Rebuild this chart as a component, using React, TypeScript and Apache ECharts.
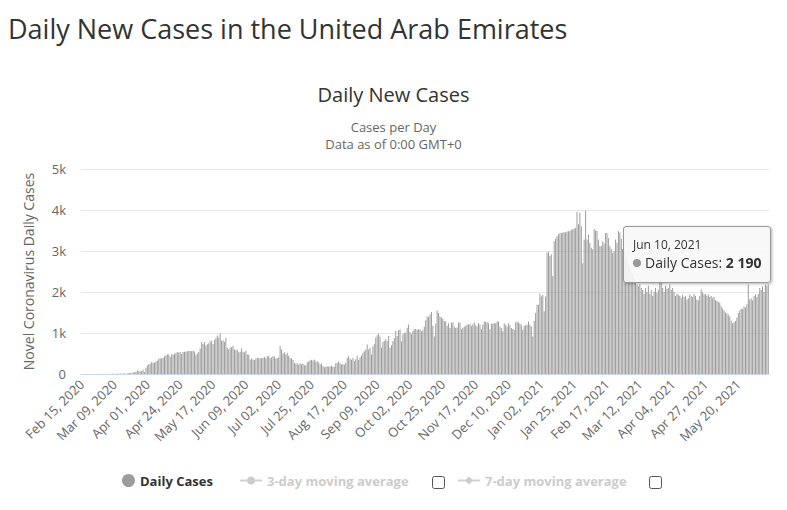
import React, { useEffect, useRef } from "react";
import * as echarts from "echarts";

// ---- Data (daily new cases) ----
const startDate = "2020-02-15";

const feb2020 = [0, 0, 1, 0, 0, 0, 0, 0, 0, 0, 0, 0, 0, 0, 0];
const mar2020 = [0, 2, 0, 6, 0, 1, 0, 15, 0, 0, 15, 0, 11, 5, 13, 11, 0, 15, 27, 27, 13, 45, 45, 50, 85, 72, 63, 72, 102, 41, 150];
const apr2020 = [210, 240, 241, 294, 277, 283, 300, 331, 370, 376, 387, 398, 432, 460, 479, 477, 412, 484, 477, 483, 518, 532, 525, 538, 490, 536, 541, 541, 552, 561];
const may2020 = [564, 557, 567, 546, 462, 502, 541, 624, 781, 731, 783, 698, 725, 747, 792, 813, 731, 832, 873, 941, 892, 994, 812, 822, 779, 883, 635, 596, 638, 661, 689];
const jun2020 = [596, 573, 596, 528, 540, 624, 540, 528, 568, 476, 477, 352, 379, 352, 344, 376, 388, 394, 378, 393, 392, 417, 382, 430, 448, 391, 401, 437, 426, 375];
const jul2020 = [389, 402, 686, 600, 500, 532, 475, 520, 445, 393, 380, 350, 275, 250, 264, 227, 260, 240, 250, 211, 213, 286, 310, 328, 350, 330, 354, 300, 310, 280, 230];
const aug2020 = [254, 189, 164, 179, 189, 181, 185, 200, 178, 179, 262, 271, 310, 265, 230, 235, 231, 277, 390, 435, 375, 350, 390, 310, 360, 450, 350, 411, 450, 516, 557];
const sep2020 = [600, 720, 600, 640, 475, 674, 735, 885, 943, 983, 913, 640, 780, 806, 845, 800, 930, 640, 700, 800, 870, 1050, 925, 1065, 1083, 800, 967, 1000, 1008, 1130];
const oct2020 = [1210, 1025, 967, 1050, 1090, 1100, 1075, 1090, 1090, 1040, 1060, 1150, 1310, 1400, 1390, 1450, 1510, 1175, 915, 1230, 1550, 1490, 1400, 1380, 1350, 1290, 1280, 1175, 1240, 1120, 1255];
const nov2020 = [1255, 1160, 1120, 1136, 1255, 1255, 1090, 1120, 1150, 1175, 1200, 1210, 1225, 1175, 1208, 1255, 1190, 1160, 1240, 1210, 1090, 1200, 1280, 1280, 1260, 1240, 1090, 1225, 1230, 1240];
const dec2020 = [1240, 1280, 1280, 1150, 1120, 1040, 1240, 1200, 1160, 1240, 1190, 1120, 1100, 1080, 1255, 1280, 1255, 1230, 1200, 1080, 1175, 1190, 1200, 1280, 1200, 1160, 915, 1300, 1490, 1690, 1690];
const jan2021 = [1960, 1890, 1930, 1530, 1890, 2960, 2980, 2880, 2920, 2390, 3240, 3300, 3360, 3410, 3430, 3440, 3450, 3455, 3460, 3475, 3480, 3490, 3510, 3530, 3540, 3570, 3950, 3650, 3930, 3600, 2700];
const feb2021 = [3280, 3977, 3280, 3400, 3200, 3080, 3040, 3530, 3500, 3490, 3280, 3120, 3120, 3240, 3180, 3440, 3440, 3320, 3120, 3040, 2950, 3000, 3280, 3200, 3490, 3450, 3300, 3050];
const mar2021 = [3000, 2800, 2900, 2700, 2600, 2500, 2450, 2350, 2220, 2180, 2140, 2190, 2100, 2050, 1950, 2100, 2000, 2150, 1950, 2050, 1900, 2000, 2100, 1980, 2050, 2300, 2250, 2100, 2000, 2150, 2080];
const apr2021 = [2100, 2180, 2050, 2100, 2000, 1900, 1950, 1930, 1900, 1860, 1930, 1880, 1900, 1820, 1850, 1940, 1900, 1880, 1950, 1900, 1820, 1800, 1900, 2060, 1980, 1940, 1950, 1900, 1940, 1880];
const may2021 = [1900, 1850, 1880, 1800, 1780, 1760, 1740, 1650, 1600, 1550, 1500, 1480, 1450, 1400, 1300, 1240, 1260, 1290, 1380, 1490, 1550, 1600, 1580, 1650, 1620, 1700, 2180, 1820, 1850, 1800, 1900];
const jun2021 = [1940, 1880, 1950, 2100, 2050, 2140, 2000, 2180, 2150, 2190];

const dailyCases = [
  ...feb2020, ...mar2020, ...apr2020, ...may2020, ...jun2020, ...jul2020,
  ...aug2020, ...sep2020, ...oct2020, ...nov2020, ...dec2020,
  ...jan2021, ...feb2021, ...mar2021, ...apr2021, ...may2021, ...jun2021,
];

const yTicks = [0, 1000, 2000, 3000, 4000, 5000];
const legendNames = ["Daily Cases", "3-day moving average", "7-day moving average"];

const MONTHS = ["Jan", "Feb", "Mar", "Apr", "May", "Jun", "Jul", "Aug", "Sep", "Oct", "Nov", "Dec"];

function buildDates(start: string, n: number): string[] {
  const [y, m, d] = start.split("-").map(Number);
  const t0 = Date.UTC(y, m - 1, d);
  const out: string[] = [];
  for (let i = 0; i < n; i++) {
    const dt = new Date(t0 + i * 86400000);
    const dd = String(dt.getUTCDate()).padStart(2, "0");
    out.push(`${MONTHS[dt.getUTCMonth()]} ${dd}, ${dt.getUTCFullYear()}`);
  }
  return out;
}

const categories = buildDates(startDate, dailyCases.length);

const FONT = "'Open Sans', sans-serif";

function fmtNum(v: number): string {
  return String(v).replace(/\B(?=(\d{3})+(?!\d))/g, " ");
}

export default function App() {
  const ref = useRef<HTMLDivElement>(null);

  useEffect(() => {
    if (!ref.current) return;
    const chart = echarts.init(ref.current, undefined, { renderer: "svg" });
    const legendText = { fontFamily: FONT, fontSize: 13, fontWeight: "bold", color: "#333333" };
    const option: any = {
      animation: false,
      backgroundColor: "#ffffff",
      textStyle: { fontFamily: FONT },
      title: [
        {
          text: "Daily New Cases in the United Arab Emirates",
          left: 3,
          top: 10,
          textStyle: { fontFamily: FONT, fontSize: 27, fontWeight: "normal", color: "#333333" },
        },
        {
          text: "Daily New Cases",
          left: "center",
          top: 79,
          textStyle: { fontFamily: FONT, fontSize: 20, fontWeight: "normal", color: "#333333" },
        },
        {
          text: "Cases per Day",
          left: "center",
          top: 115,
          textStyle: { fontFamily: FONT, fontSize: 13, fontWeight: "normal", color: "#666666" },
        },
        {
          text: "Data as of 0:00 GMT+0",
          left: "center",
          top: 132,
          textStyle: { fontFamily: FONT, fontSize: 13, fontWeight: "normal", color: "#666666" },
        },
      ],
      grid: { left: 81, right: 18, top: 169, bottom: 136, containLabel: false },
      tooltip: {
        trigger: "item",
        triggerOn: "none",
        alwaysShowContent: true,
        transitionDuration: 0,
        backgroundColor: "rgba(247,247,247,0.9)",
        borderColor: "#999999",
        borderWidth: 1,
        borderRadius: 3,
        padding: [10, 9, 9, 9],
        extraCssText: "box-shadow: 1px 1px 3px rgba(0,0,0,0.3);",
        textStyle: { fontFamily: FONT, fontSize: 14, color: "#333333" },
        position: () => [623, 226],
        formatter: (p: any) =>
          `<div style="font-size:12px;line-height:16px;color:#333">${p.name}</div>` +
          `<div style="font-size:14px;line-height:20px;color:#333"><span style="display:inline-block;width:8px;height:8px;border-radius:50%;background:#999;margin-right:4px;vertical-align:1px"></span>Daily Cases: <b>${fmtNum(p.value)}</b></div>`,
      },
      legend: [
        {
          data: [legendNames[0]],
          left: 117,
          top: 469,
          icon: "circle",
          itemWidth: 13,
          itemHeight: 13,
          textStyle: legendText,
        },
        {
          data: [legendNames[1]],
          left: 234,
          top: 469,
          itemWidth: 22,
          itemHeight: 10,
          inactiveColor: "#cccccc",
          selected: { [legendNames[1]]: false },
          textStyle: legendText,
        },
        {
          data: [legendNames[2]],
          left: 452,
          top: 469,
          itemWidth: 22,
          itemHeight: 10,
          inactiveColor: "#cccccc",
          selected: { [legendNames[2]]: false },
          textStyle: legendText,
        },
      ],
      xAxis: {
        type: "category",
        data: categories,
        boundaryGap: true,
        axisLine: { show: true, lineStyle: { color: "#ccd6eb", width: 1 } },
        axisTick: { show: false },
        axisLabel: {
          interval: 22,
          rotate: 45,
          margin: 8,
          fontFamily: FONT,
          fontSize: 13,
          color: "#666666",
        },
        splitLine: { show: false },
      },
      yAxis: {
        type: "value",
        min: yTicks[0],
        max: yTicks[yTicks.length - 1],
        interval: 1000,
        name: "Novel Coronavirus Daily Cases",
        nameLocation: "middle",
        nameRotate: 90,
        nameGap: 46,
        nameTextStyle: { fontFamily: FONT, fontSize: 14, color: "#666666" },
        axisLine: { show: false },
        axisTick: { show: false },
        axisLabel: {
          margin: 15,
          fontFamily: FONT,
          fontSize: 13,
          color: "#666666",
          formatter: (v: number) => (v === 0 ? "0" : `${v / 1000}k`),
        },
        splitLine: { show: true, lineStyle: { color: "#e6e6e6", width: 1 } },
      },
      series: [
        {
          name: legendNames[0],
          type: "bar",
          data: dailyCases,
          itemStyle: { color: "#9c9c9c" },
          barCategoryGap: "30%",
          emphasis: { disabled: true },
        },
        {
          name: legendNames[1],
          type: "line",
          data: [],
          symbol: "circle",
          symbolSize: 8,
          itemStyle: { color: "#cccccc" },
          lineStyle: { color: "#cccccc" },
        },
        {
          name: legendNames[2],
          type: "line",
          data: [],
          symbol: "diamond",
          symbolSize: 9,
          itemStyle: { color: "#cccccc" },
          lineStyle: { color: "#cccccc" },
        },
      ],
      graphic: [
        {
          type: "rect",
          shape: { x: 432.5, y: 476.5, width: 12, height: 12, r: 2 },
          style: { fill: "#ffffff", stroke: "#555555", lineWidth: 1 },
        },
        {
          type: "rect",
          shape: { x: 649.5, y: 476.5, width: 12, height: 12, r: 2 },
          style: { fill: "#ffffff", stroke: "#555555", lineWidth: 1 },
        },
      ],
    };
    chart.setOption(option);
    chart.dispatchAction({ type: "showTip", seriesIndex: 0, dataIndex: dailyCases.length - 1 });
    return () => chart.dispose();
  }, []);

  return (
    <div
      ref={ref}
      style={{ position: "absolute", left: 0, top: 0, width: 787, height: 510 }}
    />
  );
}
